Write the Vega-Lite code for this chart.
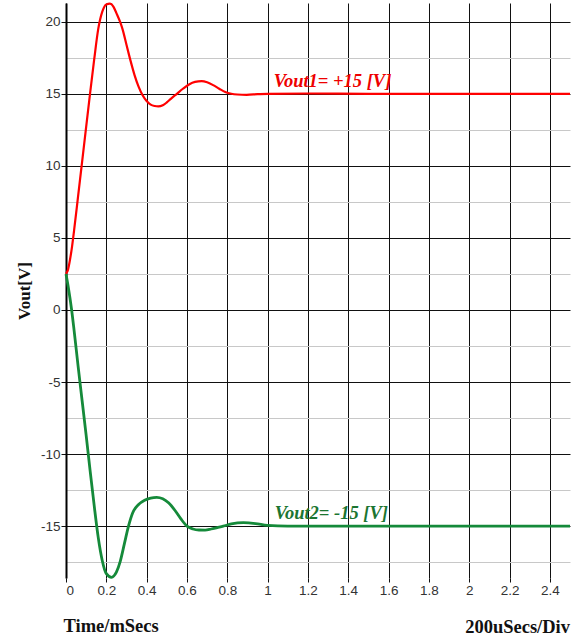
{
  "$schema": "https://vega.github.io/schema/vega-lite/v6.json",
  "width": 504,
  "height": 575,
  "autosize": "none",
  "padding": {"left": 66, "top": 3, "right": 8, "bottom": 59},
  "background": "white",
  "title": {"text": "200uSecs/Div", "orient": "bottom", "anchor": "end", "frame": "group", "font": "Liberation Serif", "fontSize": 18.5, "fontWeight": "bold", "color": "#111111", "offset": -17},
  "config": {"view": {"stroke": null}},
  "datasets": {
    "curves": [
      {"t": 0, "v": 2.5, "series": "Vout1"},
      {"t": 0.01, "v": 2.8, "series": "Vout1"},
      {"t": 0.02, "v": 3.5, "series": "Vout1"},
      {"t": 0.03, "v": 4.4, "series": "Vout1"},
      {"t": 0.04, "v": 5.5, "series": "Vout1"},
      {"t": 0.06, "v": 7.9, "series": "Vout1"},
      {"t": 0.08, "v": 10.3, "series": "Vout1"},
      {"t": 0.10, "v": 12.7, "series": "Vout1"},
      {"t": 0.12, "v": 15.1, "series": "Vout1"},
      {"t": 0.14, "v": 17.4, "series": "Vout1"},
      {"t": 0.16, "v": 19.5, "series": "Vout1"},
      {"t": 0.18, "v": 20.7, "series": "Vout1"},
      {"t": 0.20, "v": 21.2, "series": "Vout1"},
      {"t": 0.218, "v": 21.25, "series": "Vout1"},
      {"t": 0.235, "v": 21.05, "series": "Vout1"},
      {"t": 0.25, "v": 20.6, "series": "Vout1"},
      {"t": 0.268, "v": 20.0, "series": "Vout1"},
      {"t": 0.28, "v": 19.5, "series": "Vout1"},
      {"t": 0.30, "v": 18.4, "series": "Vout1"},
      {"t": 0.32, "v": 17.3, "series": "Vout1"},
      {"t": 0.34, "v": 16.3, "series": "Vout1"},
      {"t": 0.36, "v": 15.5, "series": "Vout1"},
      {"t": 0.38, "v": 14.9, "series": "Vout1"},
      {"t": 0.40, "v": 14.5, "series": "Vout1"},
      {"t": 0.42, "v": 14.25, "series": "Vout1"},
      {"t": 0.44, "v": 14.15, "series": "Vout1"},
      {"t": 0.458, "v": 14.12, "series": "Vout1"},
      {"t": 0.48, "v": 14.2, "series": "Vout1"},
      {"t": 0.50, "v": 14.4, "series": "Vout1"},
      {"t": 0.52, "v": 14.65, "series": "Vout1"},
      {"t": 0.55, "v": 15.0, "series": "Vout1"},
      {"t": 0.58, "v": 15.35, "series": "Vout1"},
      {"t": 0.61, "v": 15.65, "series": "Vout1"},
      {"t": 0.64, "v": 15.83, "series": "Vout1"},
      {"t": 0.673, "v": 15.88, "series": "Vout1"},
      {"t": 0.70, "v": 15.8, "series": "Vout1"},
      {"t": 0.73, "v": 15.6, "series": "Vout1"},
      {"t": 0.76, "v": 15.35, "series": "Vout1"},
      {"t": 0.79, "v": 15.12, "series": "Vout1"},
      {"t": 0.82, "v": 15.0, "series": "Vout1"},
      {"t": 0.85, "v": 14.95, "series": "Vout1"},
      {"t": 0.896, "v": 14.93, "series": "Vout1"},
      {"t": 0.95, "v": 14.97, "series": "Vout1"},
      {"t": 1.0, "v": 15.0, "series": "Vout1"},
      {"t": 1.2, "v": 15.02, "series": "Vout1"},
      {"t": 1.5, "v": 15.0, "series": "Vout1"},
      {"t": 2.0, "v": 15.0, "series": "Vout1"},
      {"t": 2.5, "v": 15.0, "series": "Vout1"},
      {"t": 0, "v": 2.5, "series": "Vout2"},
      {"t": 0.01, "v": 1.7, "series": "Vout2"},
      {"t": 0.02, "v": 0.8, "series": "Vout2"},
      {"t": 0.028, "v": 0.0, "series": "Vout2"},
      {"t": 0.04, "v": -1.4, "series": "Vout2"},
      {"t": 0.06, "v": -3.9, "series": "Vout2"},
      {"t": 0.08, "v": -6.3, "series": "Vout2"},
      {"t": 0.10, "v": -8.7, "series": "Vout2"},
      {"t": 0.12, "v": -11.2, "series": "Vout2"},
      {"t": 0.14, "v": -13.6, "series": "Vout2"},
      {"t": 0.16, "v": -15.8, "series": "Vout2"},
      {"t": 0.18, "v": -17.4, "series": "Vout2"},
      {"t": 0.20, "v": -18.3, "series": "Vout2"},
      {"t": 0.226, "v": -18.55, "series": "Vout2"},
      {"t": 0.25, "v": -18.2, "series": "Vout2"},
      {"t": 0.268, "v": -17.5, "series": "Vout2"},
      {"t": 0.29, "v": -16.2, "series": "Vout2"},
      {"t": 0.31, "v": -15.0, "series": "Vout2"},
      {"t": 0.33, "v": -14.1, "series": "Vout2"},
      {"t": 0.36, "v": -13.5, "series": "Vout2"},
      {"t": 0.39, "v": -13.2, "series": "Vout2"},
      {"t": 0.42, "v": -13.05, "series": "Vout2"},
      {"t": 0.45, "v": -13.0, "series": "Vout2"},
      {"t": 0.48, "v": -13.1, "series": "Vout2"},
      {"t": 0.51, "v": -13.4, "series": "Vout2"},
      {"t": 0.54, "v": -13.9, "series": "Vout2"},
      {"t": 0.57, "v": -14.5, "series": "Vout2"},
      {"t": 0.60, "v": -15.0, "series": "Vout2"},
      {"t": 0.63, "v": -15.2, "series": "Vout2"},
      {"t": 0.66, "v": -15.27, "series": "Vout2"},
      {"t": 0.69, "v": -15.28, "series": "Vout2"},
      {"t": 0.72, "v": -15.2, "series": "Vout2"},
      {"t": 0.75, "v": -15.1, "series": "Vout2"},
      {"t": 0.78, "v": -15.0, "series": "Vout2"},
      {"t": 0.82, "v": -14.85, "series": "Vout2"},
      {"t": 0.88, "v": -14.76, "series": "Vout2"},
      {"t": 0.94, "v": -14.82, "series": "Vout2"},
      {"t": 1.0, "v": -14.95, "series": "Vout2"},
      {"t": 1.1, "v": -15.0, "series": "Vout2"},
      {"t": 1.5, "v": -15.0, "series": "Vout2"},
      {"t": 2.0, "v": -15.0, "series": "Vout2"},
      {"t": 2.5, "v": -15.0, "series": "Vout2"}
    ],
    "labels": [
      {"t": 1.03, "v": 15, "series": "Vout1", "label": "Vout1= +15 [V]"},
      {"t": 1.035, "v": -15, "series": "Vout2", "label": "Vout2= -15 [V]"}
    ]
  },
  "encoding": {
    "x": {
      "field": "t", "type": "quantitative",
      "scale": {"domain": [0, 2.5], "nice": false, "zero": false},
      "axis": {
        "values": [0, 0.2, 0.4, 0.6, 0.8, 1, 1.2, 1.4, 1.6, 1.8, 2, 2.2, 2.4],
        "format": "~g",
        "domain": false,
        "grid": true, "gridColor": "#111111", "gridWidth": 1, "gridOpacity": 1,
        "ticks": true, "tickSize": 4, "tickColor": "#111111",
        "labelFont": "Liberation Sans", "labelFontSize": 13.5, "labelColor": "#333333", "labelPadding": 1,
        "title": "Time/mSecs", "titleFont": "Liberation Serif", "titleFontSize": 18.5, "titleFontWeight": "bold", "titleColor": "#111111",
        "titleX": -3, "titleY": 47, "titleAlign": "left", "titleBaseline": "middle", "titleAngle": 0
      }
    },
    "y": {
      "field": "v", "type": "quantitative",
      "scale": {"domain": [-18.6, 21.3], "nice": false, "zero": false},
      "axis": {
        "values": [-17.5, -15, -12.5, -10, -7.5, -5, -2.5, 0, 2.5, 5, 7.5, 10, 12.5, 15, 17.5, 20],
        "labelExpr": "datum.value % 5 === 0 ? toString(datum.value) : ''",
        "domain": true, "domainColor": "#000000", "domainWidth": 2,
        "grid": true, "gridWidth": 1, "gridOpacity": 1,
        "gridColor": {"condition": {"test": "datum.value % 5 === 0", "value": "#111111"}, "value": "#c8c8c8"},
        "ticks": true, "tickSize": 5, "tickColor": "#111111",
        "tickOpacity": {"condition": {"test": "datum.value % 5 === 0", "value": 1}, "value": 0},
        "labelFont": "Liberation Sans", "labelFontSize": 13.5, "labelColor": "#333333", "labelPadding": 1,
        "title": "Vout[V]", "titleFont": "Liberation Serif", "titleFontSize": 17, "titleFontWeight": "bold", "titleColor": "#111111",
        "titleX": -42, "titleY": 287.5, "titleAngle": -90, "titleAlign": "center", "titleBaseline": "middle"
      }
    }
  },
  "layer": [
    {
      "data": {"name": "curves"},
      "mark": {"type": "line", "interpolate": "monotone", "clip": false},
      "encoding": {
        "color": {"field": "series", "type": "nominal", "scale": {"domain": ["Vout1", "Vout2"], "range": ["#ff0000", "#158a3a"]}, "legend": null},
        "strokeWidth": {"field": "series", "type": "nominal", "scale": {"domain": ["Vout1", "Vout2"], "range": [2.2, 2.8]}, "legend": null}
      }
    },
    {
      "data": {"name": "labels"},
      "mark": {"type": "text", "align": "left", "baseline": "alphabetic", "dy": -7, "font": "Liberation Serif", "fontSize": 18.5, "fontWeight": "bold", "fontStyle": "italic"},
      "encoding": {
        "text": {"field": "label"},
        "color": {"condition": {"test": "datum.series === 'Vout1'", "value": "#ee0000"}, "value": "#1b7531"}
      }
    }
  ]
}
